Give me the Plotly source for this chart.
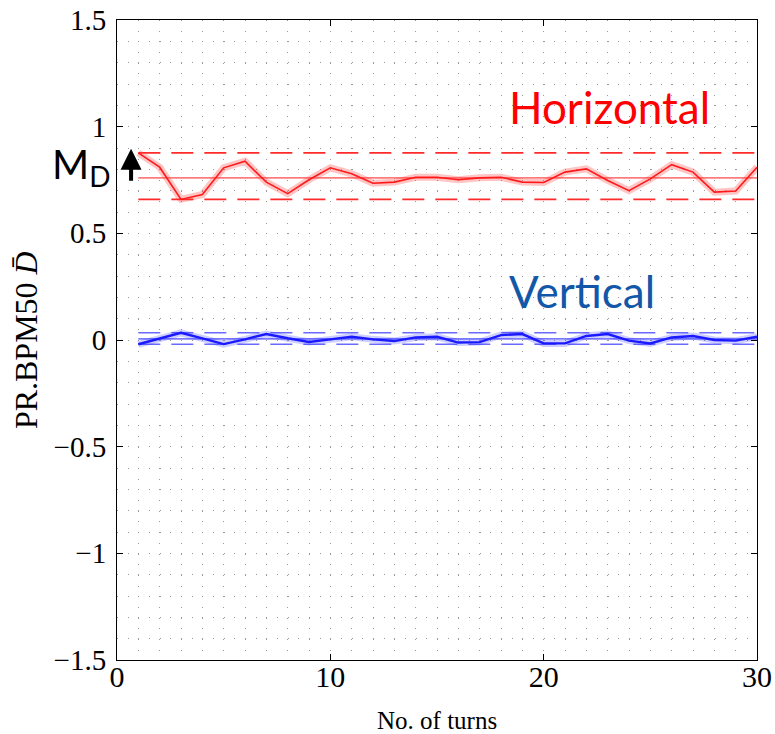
import numpy as np
import plotly.graph_objects as go

turns = list(range(1, 31))
horizontal = [0.877, 0.81, 0.659, 0.682, 0.807, 0.838, 0.74, 0.686, 0.751, 0.807,
              0.779, 0.735, 0.74, 0.763, 0.763, 0.751, 0.76, 0.763, 0.74, 0.738,
              0.787, 0.802, 0.748, 0.70, 0.755, 0.822, 0.787, 0.693, 0.698, 0.81]
vertical = [-0.02, 0.006, 0.034, 0.008, -0.019, 0.003, 0.028, 0.008, -0.009, 0.003,
            0.015, 0.003, -0.005, 0.012, 0.015, -0.012, -0.01, 0.023, 0.028, -0.016,
            -0.016, 0.019, 0.028, -0.003, -0.016, 0.012, 0.019, 0.0, -0.003, 0.015]
x_ticks = [0, 10, 20, 30]
y_ticks = [-1.5, -1, -0.5, 0, 0.5, 1, 1.5]
y_ticklabels = ["−1.5", "−1", "−0.5", "0", "0.5", "1", "1.5"]

RED = "#ff1a1a"
BLUE = "#1a1aff"

fig = go.Figure()

def add_series(vals, color, band_color, dash_color, core_w):
    xs = [turns[0], turns[-1]]
    vmax, vmin, vmean = max(vals), min(vals), float(np.mean(vals))
    for v in (vmax, vmin):
        fig.add_trace(go.Scatter(x=xs, y=[v, v], mode="lines",
                                 line=dict(color=dash_color, width=1.6, dash="22px,11px"),
                                 showlegend=False, hoverinfo="skip"))
    fig.add_trace(go.Scatter(x=xs, y=[vmean, vmean], mode="lines",
                             line=dict(color=color, width=1), showlegend=False, hoverinfo="skip"))
    fig.add_trace(go.Scatter(x=turns, y=vals, mode="lines",
                             line=dict(color=band_color, width=7), showlegend=False, hoverinfo="skip"))
    fig.add_trace(go.Scatter(x=turns, y=vals, mode="lines",
                             line=dict(color=color, width=core_w), showlegend=False))

add_series(horizontal, RED, "rgba(255,60,60,0.3)", "#ff2a2a", 1.6)
add_series(vertical, BLUE, "rgba(60,60,255,0.25)", "#6a6aff", 2.4)

grid_common = dict(griddash="1px,9.67px", gridcolor="#9a9a9a", gridwidth=1)

fig.update_xaxes(range=[0, 30], tickvals=x_ticks, ticks="inside", ticklen=6, tickcolor="black",
                 showline=True, linecolor="black", linewidth=1, mirror="ticks",
                 zeroline=False, showgrid=True, automargin=False, ticklabelstandoff=-10,
                 minor=dict(dtick=1, showgrid=True, ticks="", **grid_common),
                 tickfont=dict(family="Liberation Serif", size=30, color="black"),
                 **grid_common)
fig.update_yaxes(range=[-1.5, 1.5], tickvals=y_ticks, ticktext=y_ticklabels,
                 ticks="inside", ticklen=6, tickcolor="black",
                 showline=True, linecolor="black", linewidth=1, mirror="ticks",
                 zeroline=False, showgrid=True, ticklabelstandoff=4, automargin=False,
                 minor=dict(dtick=0.1, showgrid=True, ticks="", **grid_common),
                 tickfont=dict(family="Liberation Serif", size=29, color="black"),
                 **grid_common)

fig.add_annotation(text="Horizontal", x=23.1, y=1.092, xref="x", yref="y", showarrow=False,
                   font=dict(family="Lato", size=44, color="#ff0000"))
fig.add_annotation(text="Vertical", x=21.8, y=0.228, xref="x", yref="y", showarrow=False,
                   font=dict(family="Lato", size=44, color="#1257a8"))
fig.add_annotation(text="M<sub>D</sub>", x=-0.008, y=0.812, xref="paper", yref="y",
                   xanchor="right", showarrow=False,
                   font=dict(family="Lato", size=40, color="black"))
fig.add_annotation(text="", x=0.66, y=0.897, ax=0.66, ay=0.74, xref="x", yref="y",
                   axref="x", ayref="y", showarrow=True, arrowhead=2, arrowsize=1.05,
                   arrowwidth=4, arrowcolor="black", standoff=0, startstandoff=0)
fig.add_annotation(text="PR.BPM50 <i>D\u0304</i>", x=-0.142, y=0.5, xref="paper", yref="paper",
                   xanchor="center", yanchor="middle",
                   textangle=-90, showarrow=False,
                   font=dict(family="Liberation Serif", size=32, color="black"))
fig.add_annotation(text="No. of turns", x=0.5, y=-0.094, xref="paper", yref="paper",
                   xanchor="center", yanchor="middle",
                   showarrow=False, font=dict(family="Liberation Serif", size=25, color="black"))

fig.update_layout(width=775, height=734, margin=dict(l=117, r=18, t=20, b=74),
                  plot_bgcolor="white", paper_bgcolor="white")

fig.write_html("out.html")
